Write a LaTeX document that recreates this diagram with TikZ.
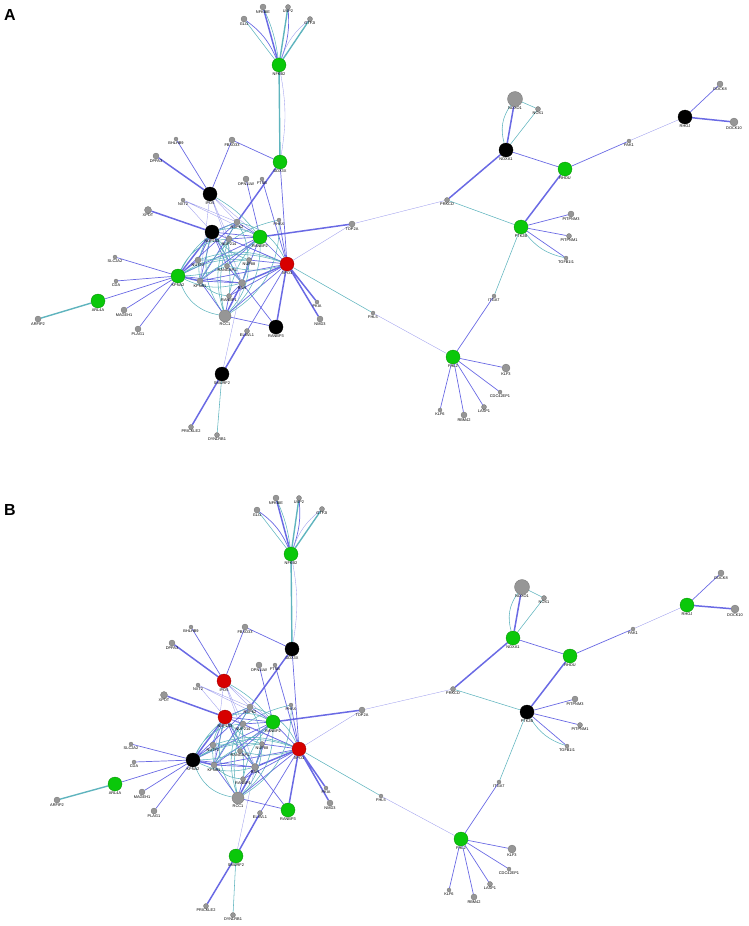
\documentclass[tikz,border=0pt]{standalone}
\usepackage{fontspec}
\setsansfont{Liberation Sans}
\usetikzlibrary{backgrounds}

\definecolor{phys}{RGB}{90,90,225}
\definecolor{coex}{RGB}{95,180,190}
\definecolor{hubgreen}{RGB}{10,200,10}
\definecolor{hubred}{RGB}{215,0,0}
\definecolor{genegray}{RGB}{150,150,150}

\tikzset{
  gene/.style={circle, inner sep=0pt, line width=0.3pt},
  gn/.style={gene, fill=hubgreen, draw=hubgreen!70!black, minimum size=14pt},
  bk/.style={gene, fill=black, draw=black, minimum size=14pt},
  rd/.style={gene, fill=hubred, draw=hubred!70!black, minimum size=14pt},
  gy/.style={gene, fill=genegray, draw=black!55, minimum size=#1},
  gy/.default=5pt,
  lbl/.style={font=\sffamily\fontsize{3.9}{3.9}\selectfont, inner sep=0.3pt, text=black},
  gname/.style={label={[lbl]below:#1}},
  ph/.style={draw=phys, line width=0.7pt, opacity=0.9},
  phk/.style={draw=phys, line width=1.5pt, opacity=0.9},
  phl/.style={draw=phys!60, line width=0.35pt},
  co/.style={draw=coex, line width=0.55pt},
  cok/.style={draw=coex, line width=1.4pt},
  panel/.style={font=\sffamily\bfseries\fontsize{16}{16}\selectfont, inner sep=0pt},
}

\begin{document}
\begin{tikzpicture}[x=1pt,y=-1pt]
\useasboundingbox (0,0) rectangle (748,926);

% Panel A
\node[panel] (A-tag) at (10,15) {A};
\node[gn, gname=NFKB2] (a-NFKB2) at (279,65) {};
\node[gy=6pt, gname=NFKBIE] (a-NFKBIE) at (263,7) {};
\node[gy=5pt, gname=USP2] (a-USP2) at (288,7) {};
\node[gy=6pt, gname=GLI1] (a-GLI1) at (244,19) {};
\node[gy=5pt, gname=GTF2I] (a-GTF2I) at (310,19) {};
\node[gn, gname=DDX3X] (a-DDX3X) at (280,162) {};
\node[gy=4pt, gname=BHLHB9] (a-BHLHB9) at (176,139) {};
\node[gy=6pt, gname=FBXO33] (a-FBXO33) at (232,140) {};
\node[gy=6pt, gname=DPPA3] (a-DPPA3) at (156,156) {};
\node[bk, gname=IPO5] (a-IPO5) at (210,194) {};
\node[gy=6pt, gname=OPN1LW] (a-OPN1LW) at (246,179) {};
\node[gy=4pt, gname=FTSB] (a-FTSB) at (262,179) {};
\node[gy=4pt, gname=NXT2] (a-NXT2) at (183,200) {};
\node[gy=7pt, gname=XPOT] (a-XPOT) at (148,210) {};
\node[bk, gname=NUP153] (a-NUP153) at (212,232) {};
\node[gy=6pt, gname=NUP62] (a-NUP62) at (237,222) {};
\node[gy=6pt, gname=NUP214] (a-NUP214) at (229,239) {};
\node[gn, gname=RANBP2] (a-RANBP2) at (260,237) {};
\node[gy=4pt, gname=PHAX] (a-PHAX) at (279,220) {};
\node[gy=6pt, gname=TOP2A] (a-TOP2A) at (352,224) {};
\node[gy=6pt, gname=NUTF2] (a-NUTF2) at (198,260) {};
\node[gy=5pt, gname=RANGAP1] (a-RANGAP1) at (227,266) {};
\node[gy=5pt, gname=NUP88] (a-NUP88) at (249,260) {};
\node[gn, gname=KPNA2] (a-KPNA2) at (178,276) {};
\node[gy=6pt, gname=KPNB1] (a-KPNB1) at (200,281) {};
\node[gy=7pt, gname=RAN] (a-RAN) at (242,283) {};
\node[rd, gname=XPO1] (a-XPO1) at (287,264) {};
\node[gy=5pt, gname=RANBP1] (a-RANBP1) at (229,296) {};
\node[gy=12pt, gname=RCC1] (a-RCC1) at (225,316) {};
\node[gy=5pt, gname=ELAVL1] (a-ELAVL1) at (247,331) {};
\node[bk, gname=RANBP3] (a-RANBP3) at (276,327) {};
\node[gy=4pt, gname=PKIA] (a-PKIA) at (317,302) {};
\node[gy=6pt, gname=NMD3] (a-NMD3) at (320,319) {};
\node[gy=4pt, gname=FHL5] (a-FHL5) at (373,313) {};
\node[gy=4pt, gname=SLC2A2] (a-SLC2A2) at (115,257) {};
\node[gy=4pt, gname=CDA] (a-CDA) at (116,281) {};
\node[gn, gname=ARL4A] (a-ARL4A) at (98,301) {};
\node[gy=6pt, gname=ARFIP2] (a-ARFIP2) at (38,319) {};
\node[gy=6pt, gname=MAGEH1] (a-MAGEH1) at (124,310) {};
\node[gy=6pt, gname=PLAG1] (a-PLAG1) at (138,329) {};
\node[bk, gname=SMURF2] (a-SMURF2) at (222,374) {};
\node[gy=5pt, gname=PRICKLE2] (a-PRICKLE2) at (191,427) {};
\node[gy=5pt, gname=DYNLRB1] (a-DYNLRB1) at (217,435) {};
\node[gy=5pt, gname=PRKCD] (a-PRKCD) at (447,200) {};
\node[gy=15pt, gname=NOXO1] (a-NOXO1) at (515,99) {};
\node[gy=5pt, gname=NOX1] (a-NOX1) at (538,109) {};
\node[bk, gname=NOXA1] (a-NOXA1) at (506,150) {};
\node[gn, gname=RHOU] (a-RHOU) at (565,169) {};
\node[gn, gname=PTK2B] (a-PTK2B) at (521,227) {};
\node[gy=6pt, gname=PITPNM3] (a-PITPNM3) at (571,214) {};
\node[gy=5pt, gname=PITPNM1] (a-PITPNM1) at (569,236) {};
\node[gy=4pt, gname=TGFB1I1] (a-TGFB1I1) at (566,258) {};
\node[gy=4pt, gname=PAK1] (a-PAK1) at (629,141) {};
\node[bk, gname=RHOJ] (a-RHOJ) at (685,117) {};
\node[gy=6pt, gname=DOCK8] (a-DOCK8) at (720,84) {};
\node[gy=8pt, gname=DOCK10] (a-DOCK10) at (734,122) {};
\node[gy=4pt, gname=ITGA7] (a-ITGA7) at (494,296) {};
\node[gn, gname=FHL2] (a-FHL2) at (453,357) {};
\node[gy=8pt, gname=KLF3] (a-KLF3) at (506,368) {};
\node[gy=4pt, gname=CDC42EP1] (a-CDC42EP1) at (500,392) {};
\node[gy=5pt, gname=LASP1] (a-LASP1) at (484,407) {};
\node[gy=6pt, gname=RBM42] (a-RBM42) at (464,415) {};
\node[gy=4pt, gname=KLF6] (a-KLF6) at (440,410) {};

% Panel B
\node[panel] (B-tag) at (10,510) {B};
\node[gn, gname=NFKB2] (b-NFKB2) at (291,554) {};
\node[gy=6pt, gname=NFKBIE] (b-NFKBIE) at (276,498) {};
\node[gy=5pt, gname=USP2] (b-USP2) at (299,498) {};
\node[gy=6pt, gname=GLI1] (b-GLI1) at (257,510) {};
\node[gy=5pt, gname=GTF2I] (b-GTF2I) at (322,509) {};
\node[bk, gname=DDX3X] (b-DDX3X) at (292,649) {};
\node[gy=4pt, gname=BHLHB9] (b-BHLHB9) at (191,627) {};
\node[gy=6pt, gname=FBXO33] (b-FBXO33) at (245,627) {};
\node[gy=6pt, gname=DPPA3] (b-DPPA3) at (172,643) {};
\node[rd, gname=IPO5] (b-IPO5) at (224,681) {};
\node[gy=6pt, gname=OPN1LW] (b-OPN1LW) at (259,665) {};
\node[gy=4pt, gname=FTSB] (b-FTSB) at (275,665) {};
\node[gy=4pt, gname=NXT2] (b-NXT2) at (198,685) {};
\node[gy=7pt, gname=XPOT] (b-XPOT) at (164,695) {};
\node[rd, gname=NUP153] (b-NUP153) at (225,717) {};
\node[gy=6pt, gname=NUP62] (b-NUP62) at (250,707) {};
\node[gy=6pt, gname=NUP214] (b-NUP214) at (243,724) {};
\node[gn, gname=RANBP2] (b-RANBP2) at (273,722) {};
\node[gy=4pt, gname=PHAX] (b-PHAX) at (291,705) {};
\node[gy=6pt, gname=TOP2A] (b-TOP2A) at (362,710) {};
\node[gy=6pt, gname=NUTF2] (b-NUTF2) at (213,745) {};
\node[gy=5pt, gname=RANGAP1] (b-RANGAP1) at (240,751) {};
\node[gy=5pt, gname=NUP88] (b-NUP88) at (262,744) {};
\node[bk, gname=KPNA2] (b-KPNA2) at (193,760) {};
\node[gy=6pt, gname=KPNB1] (b-KPNB1) at (214,765) {};
\node[gy=7pt, gname=RAN] (b-RAN) at (255,767) {};
\node[rd, gname=XPO1] (b-XPO1) at (299,749) {};
\node[gy=5pt, gname=RANBP1] (b-RANBP1) at (243,779) {};
\node[gy=12pt, gname=RCC1] (b-RCC1) at (238,798) {};
\node[gy=5pt, gname=ELAVL1] (b-ELAVL1) at (260,813) {};
\node[gn, gname=RANBP3] (b-RANBP3) at (288,810) {};
\node[gy=4pt, gname=PKIA] (b-PKIA) at (326,788) {};
\node[gy=6pt, gname=NMD3] (b-NMD3) at (330,803) {};
\node[gy=4pt, gname=FHL5] (b-FHL5) at (381,796) {};
\node[gy=4pt, gname=SLC2A2] (b-SLC2A2) at (131,744) {};
\node[gy=4pt, gname=CDA] (b-CDA) at (134,762) {};
\node[gn, gname=ARL4A] (b-ARL4A) at (115,784) {};
\node[gy=6pt, gname=ARFIP2] (b-ARFIP2) at (57,800) {};
\node[gy=6pt, gname=MAGEH1] (b-MAGEH1) at (142,792) {};
\node[gy=6pt, gname=PLAG1] (b-PLAG1) at (154,811) {};
\node[gn, gname=SMURF2] (b-SMURF2) at (236,856) {};
\node[gy=5pt, gname=PRICKLE2] (b-PRICKLE2) at (206,906) {};
\node[gy=5pt, gname=DYNLRB1] (b-DYNLRB1) at (233,915) {};
\node[gy=5pt, gname=PRKCD] (b-PRKCD) at (453,689) {};
\node[gy=15pt, gname=NOXO1] (b-NOXO1) at (522,587) {};
\node[gy=5pt, gname=NOX1] (b-NOX1) at (544,598) {};
\node[gn, gname=NOXA1] (b-NOXA1) at (513,638) {};
\node[gn, gname=RHOU] (b-RHOU) at (570,656) {};
\node[bk, gname=PTK2B] (b-PTK2B) at (527,712) {};
\node[gy=6pt, gname=PITPNM3] (b-PITPNM3) at (575,699) {};
\node[gy=5pt, gname=PITPNM1] (b-PITPNM1) at (580,725) {};
\node[gy=4pt, gname=TGFB1I1] (b-TGFB1I1) at (567,746) {};
\node[gy=4pt, gname=PAK1] (b-PAK1) at (633,629) {};
\node[gn, gname=RHOJ] (b-RHOJ) at (687,605) {};
\node[gy=6pt, gname=DOCK8] (b-DOCK8) at (721,573) {};
\node[gy=8pt, gname=DOCK10] (b-DOCK10) at (735,609) {};
\node[gy=4pt, gname=ITGA7] (b-ITGA7) at (499,782) {};
\node[gn, gname=FHL2] (b-FHL2) at (461,839) {};
\node[gy=8pt, gname=KLF3] (b-KLF3) at (512,849) {};
\node[gy=4pt, gname=CDC42EP1] (b-CDC42EP1) at (509,869) {};
\node[gy=5pt, gname=LASP1] (b-LASP1) at (490,884) {};
\node[gy=6pt, gname=RBM42] (b-RBM42) at (474,897) {};
\node[gy=4pt, gname=KLF6] (b-KLF6) at (449,890) {};

% Interactions, same network in both panels
\begin{scope}[on background layer]
\foreach \p in {a,b}{
  % NFKB2 fan
  \draw[phk] (\p-NFKB2) -- (\p-NFKBIE);
  \draw[co] (\p-NFKB2) to[bend right=8] (\p-NFKBIE);
  \draw[cok] (\p-NFKB2) -- (\p-USP2);
  \draw[ph] (\p-NFKB2) to[bend right=12] (\p-USP2);
  \draw[co] (\p-NFKB2) -- (\p-GLI1);
  \draw[ph] (\p-NFKB2) to[bend right=15] (\p-GLI1);
  \draw[cok] (\p-NFKB2) -- (\p-GTF2I);
  \draw[phl] (\p-NFKB2) to[bend left=15] (\p-GTF2I);
  \draw[cok] (\p-NFKB2) -- (\p-DDX3X);
  \draw[phl] (\p-NFKB2) to[bend left=10] (\p-DDX3X);
  % upper left
  \draw[ph] (\p-IPO5) -- (\p-BHLHB9) (\p-IPO5) -- (\p-FBXO33) (\p-FBXO33) -- (\p-DDX3X);
  \draw[phk] (\p-IPO5) -- (\p-DPPA3);
  \draw[phk] (\p-DDX3X) -- (\p-NUP62);
  \draw[ph] (\p-DDX3X) -- (\p-XPO1);
  \draw[ph] (\p-OPN1LW) -- (\p-RANBP2) (\p-FTSB) -- (\p-XPO1);
  \draw[phk] (\p-XPOT) -- (\p-NUP153);
  \draw[phl] (\p-NXT2) -- (\p-NUP62) (\p-NXT2) -- (\p-NUP153) (\p-NXT2) -- (\p-RANBP2);
  \draw[phl] (\p-IPO5) -- (\p-NUP62) (\p-IPO5) -- (\p-NUP214) (\p-IPO5) -- (\p-RANBP2)
    (\p-IPO5) -- (\p-KPNB1) (\p-IPO5) -- (\p-RAN);
  \draw[co] (\p-IPO5) to[bend left=10] (\p-RANBP2);
  % core
  \draw[phk] (\p-NUP153) -- (\p-KPNA2);
  \draw[ph] (\p-NUP153) -- (\p-NUP62) (\p-NUP153) -- (\p-NUP214) (\p-NUP153) -- (\p-KPNB1)
    (\p-NUP153) -- (\p-RAN) (\p-NUP153) -- (\p-RANGAP1) (\p-NUP153) -- (\p-NUTF2)
    (\p-NUP153) -- (\p-RANBP2);
  \draw[phl] (\p-NUP153) -- (\p-XPO1);
  \draw[co] (\p-NUP153) to[bend left=20] (\p-RANBP2) (\p-NUP153) to[bend right=15] (\p-NUP88)
    (\p-NUP153) to[bend right=25] (\p-RCC1) (\p-NUP153) to[bend right=20] (\p-KPNB1)
    (\p-NUP153) to[bend left=20] (\p-RANBP1);
  \draw[phk] (\p-KPNA2) -- (\p-KPNB1);
  \draw[ph] (\p-KPNA2) -- (\p-NUTF2) (\p-KPNA2) -- (\p-RAN) (\p-KPNA2) -- (\p-NUP62)
    (\p-KPNA2) -- (\p-RANBP2);
  \draw[co] (\p-KPNA2) to[bend left=20] (\p-NUP62) (\p-KPNA2) to[bend right=30] (\p-RCC1)
    (\p-KPNA2) to[bend left=15] (\p-NUP88) (\p-KPNA2) to[bend left=25] (\p-XPO1)
    (\p-KPNA2) to[bend right=10] (\p-RANGAP1) (\p-KPNA2) to[bend left=30] (\p-NUP214)
    (\p-KPNA2) to[bend right=20] (\p-RAN);
  \draw[ph] (\p-KPNB1) -- (\p-RAN) (\p-KPNB1) -- (\p-RANBP2) (\p-KPNB1) -- (\p-RCC1)
    (\p-KPNB1) -- (\p-XPO1) (\p-KPNB1) -- (\p-NUP62);
  \draw[co] (\p-KPNB1) to[bend left=20] (\p-NUP88) (\p-KPNB1) to[bend left=25] (\p-PHAX)
    (\p-KPNB1) to[bend right=20] (\p-RANBP1);
  \draw[phk] (\p-RAN) -- (\p-XPO1) (\p-RAN) -- (\p-RCC1);
  \draw[ph] (\p-RAN) -- (\p-RANBP1) (\p-RAN) -- (\p-RANBP2) (\p-RAN) -- (\p-RANGAP1)
    (\p-RAN) -- (\p-NUP88) (\p-RAN) -- (\p-RANBP3);
  \draw[co] (\p-RAN) to[bend right=25] (\p-NUP62) (\p-RAN) to[bend left=20] (\p-NUP214);
  \draw[ph] (\p-RANBP2) -- (\p-XPO1) (\p-RANBP2) -- (\p-NUP62) (\p-RANBP2) -- (\p-RANGAP1)
    (\p-RANBP2) -- (\p-NUP214);
  \draw[co] (\p-RANBP2) to[bend left=20] (\p-NUTF2) (\p-RANBP2) to[bend left=25] (\p-RCC1)
    (\p-RANBP2) to[bend right=15] (\p-RANBP1);
  \draw[ph] (\p-XPO1) -- (\p-RCC1) (\p-XPO1) -- (\p-RANBP1) (\p-XPO1) -- (\p-NUP88)
    (\p-XPO1) -- (\p-NUP214) (\p-XPO1) -- (\p-PHAX) (\p-XPO1) -- (\p-ELAVL1);
  \draw[co] (\p-XPO1) to[bend right=20] (\p-NUTF2) (\p-XPO1) to[bend right=25] (\p-NUP62)
    (\p-XPO1) to[bend left=15] (\p-RANGAP1);
  \draw[phk] (\p-XPO1) -- (\p-RANBP3) (\p-XPO1) -- (\p-PKIA) (\p-XPO1) -- (\p-NMD3);
  \draw[phl] (\p-XPO1) -- (\p-TOP2A);
  \draw[co] (\p-XPO1) -- (\p-FHL5);
  \draw[ph] (\p-RCC1) -- (\p-RANBP3) (\p-RCC1) -- (\p-RANBP1);
  \draw[co] (\p-RCC1) to[bend left=25] (\p-NUP62) (\p-RCC1) to[bend right=20] (\p-NUP88)
    (\p-RCC1) to[bend left=15] (\p-NUP214) (\p-RCC1) to[bend right=30] (\p-PHAX);
  \draw[phk] (\p-RANBP2) -- (\p-TOP2A);
  \draw[phl] (\p-TOP2A) -- (\p-PRKCD);
  % lower left
  \draw[phk] (\p-SMURF2) -- (\p-ELAVL1) (\p-SMURF2) -- (\p-PRICKLE2);
  \draw[phl] (\p-SMURF2) -- (\p-RAN);
  \draw[co] (\p-SMURF2) -- (\p-DYNLRB1);
  \draw[ph] (\p-KPNA2) -- (\p-SLC2A2) (\p-KPNA2) -- (\p-CDA) (\p-KPNA2) -- (\p-ARL4A)
    (\p-KPNA2) -- (\p-MAGEH1) (\p-KPNA2) -- (\p-PLAG1);
  \draw[cok] (\p-ARL4A) -- (\p-ARFIP2);
  % right side
  \draw[phl] (\p-FHL5) -- (\p-FHL2);
  \draw[phk] (\p-PRKCD) -- (\p-NOXA1);
  \draw[co] (\p-PRKCD) -- (\p-PTK2B);
  \draw[phk] (\p-NOXA1) -- (\p-NOXO1);
  \draw[co] (\p-NOXA1) to[bend left=25] (\p-NOXO1) (\p-NOXA1) -- (\p-NOX1) (\p-NOXO1) -- (\p-NOX1);
  \draw[ph] (\p-NOXA1) -- (\p-RHOU) (\p-RHOU) -- (\p-PAK1);
  \draw[phk] (\p-RHOU) -- (\p-PTK2B);
  \draw[phl] (\p-PAK1) -- (\p-RHOJ);
  \draw[ph] (\p-RHOJ) -- (\p-DOCK8);
  \draw[phk] (\p-RHOJ) -- (\p-DOCK10);
  \draw[ph] (\p-PTK2B) -- (\p-PITPNM3) (\p-PTK2B) -- (\p-PITPNM1) (\p-PTK2B) -- (\p-TGFB1I1);
  \draw[co] (\p-PTK2B) to[bend right=20] (\p-TGFB1I1);
  \draw[co] (\p-PTK2B) -- (\p-ITGA7);
  \draw[ph] (\p-ITGA7) -- (\p-FHL2);
  \draw[ph] (\p-FHL2) -- (\p-KLF3) (\p-FHL2) -- (\p-CDC42EP1) (\p-FHL2) -- (\p-LASP1)
    (\p-FHL2) -- (\p-RBM42) (\p-FHL2) -- (\p-KLF6);
}
\end{scope}

\end{tikzpicture}
\end{document}
